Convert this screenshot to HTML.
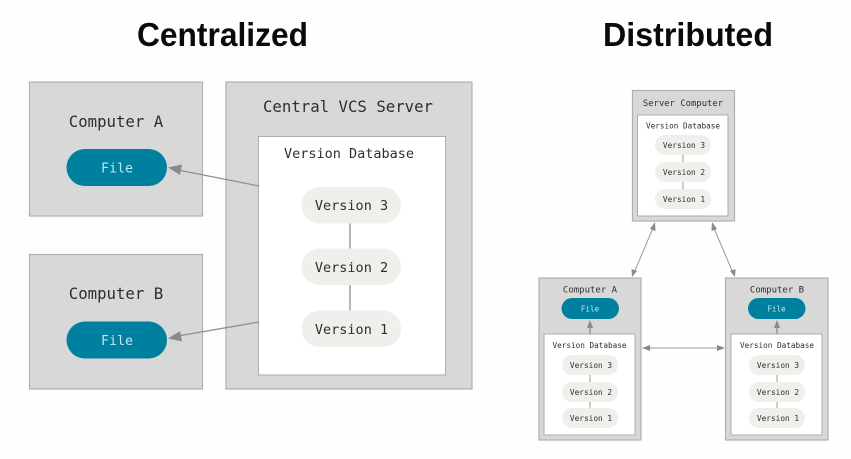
<!DOCTYPE html>
<html>
<head>
<meta charset="utf-8">
<style>
html,body{margin:0;padding:0;background:#fefefe;width:851px;height:459px;overflow:hidden}
svg{display:block}
.box{fill:#d8d8d8;stroke:#b0b0b0;stroke-width:1.2}
.white{fill:#fff;stroke:#adadad;stroke-width:1}
.pill{fill:#f0efeb}
.file{fill:#05809f}
.m{font-family:"DejaVu Sans Mono","Liberation Mono",monospace;fill:#2e2e2e;text-anchor:middle}
.f{font-family:"DejaVu Sans Mono","Liberation Mono",monospace;fill:#c4e4ec;text-anchor:middle}
.h{font-family:"Liberation Sans",sans-serif;font-weight:bold;font-size:33.5px;fill:#0a0a0a}
.ln{stroke:#8f8f8f;stroke-width:1.3;fill:none}
.thin{stroke:#9a9a9a;stroke-width:1;fill:none}
.ar{fill:#8a8a8a}
</style>
</head>
<body>
<svg width="851" height="459" viewBox="0 0 851 459" xmlns="http://www.w3.org/2000/svg">
<defs><filter id="b" filterUnits="userSpaceOnUse" x="0" y="0" width="851" height="459"><feGaussianBlur stdDeviation="0.35"/></filter></defs>
<rect x="0" y="0" width="851" height="459" fill="#fefefe"/>
<rect x="18" y="74" width="470" height="325" fill="#fdfdfc"/>

<text class="h" x="137" y="46" textLength="171" lengthAdjust="spacingAndGlyphs">Centralized</text>
<text class="h" x="603" y="46" textLength="170" lengthAdjust="spacingAndGlyphs">Distributed</text>

<g filter="url(#b)">
<!-- Centralized -->
<rect class="box" x="29.5" y="82" width="173" height="134"/>
<rect class="box" x="29.5" y="254.5" width="173" height="134.5"/>
<rect class="box" x="226" y="82" width="246" height="307"/>
<rect class="white" x="258.5" y="136.5" width="187" height="238.5"/>

<text class="m" x="116" y="127" font-size="15.7">Computer A</text>
<text class="m" x="116" y="299" font-size="15.7">Computer B</text>
<text class="m" x="348" y="112" font-size="15.7">Central VCS Server</text>
<text class="m" x="349" y="158" font-size="13.5">Version Database</text>

<rect class="file" x="66.5" y="149" width="100.5" height="37" rx="18.5"/>
<rect class="file" x="66.5" y="321.5" width="100.5" height="37" rx="18.5"/>
<text class="f" x="117" y="172.500" font-size="13.3">File</text>
<text class="f" x="117" y="345" font-size="13.3">File</text>

<path class="ln" d="M350 223V249M350 285V311"/>
<rect class="pill" x="301.5" y="187" width="99.5" height="36.5" rx="18"/>
<rect class="pill" x="301.5" y="248.5" width="99.5" height="36.5" rx="18"/>
<rect class="pill" x="301.5" y="310.5" width="99.5" height="36.5" rx="18"/>
<text class="m" x="351.5" y="210" font-size="13.5">Version 3</text>
<text class="m" x="351.5" y="272" font-size="13.5">Version 2</text>
<text class="m" x="351.5" y="334" font-size="13.5">Version 1</text>

<path class="ln" d="M259 186L178 170"/>
<polygon class="ar" points="168,167.500 182,164.500 180,175"/>
<path class="ln" d="M259 322L178 336"/>
<polygon class="ar" points="168,338.500 180,331 182,341.500"/>

<!-- Distributed: server -->
<rect class="box" x="632.500" y="90.500" width="102" height="130.500"/>
<rect class="white" x="637.500" y="115" width="90.500" height="101"/>
<text class="m" x="683" y="106" font-size="8.900">Server Computer</text>
<text class="m" x="683" y="128.500" font-size="7.700">Version Database</text>
<path class="thin" d="M683 155V162M683 182V189"/>
<rect class="pill" x="655" y="135" width="56" height="20" rx="10"/>
<rect class="pill" x="655" y="162" width="56" height="20" rx="10"/>
<rect class="pill" x="655" y="189" width="56" height="20" rx="10"/>
<text class="m" x="684" y="148" font-size="7.800">Version 3</text>
<text class="m" x="684" y="175" font-size="7.800">Version 2</text>
<text class="m" x="684" y="202" font-size="7.800">Version 1</text>

<!-- Distributed: A -->
<rect class="box" x="539" y="278" width="102" height="162"/>
<rect class="white" x="544" y="334" width="91" height="101"/>
<text class="m" x="590" y="292.500" font-size="9">Computer A</text>
<rect class="file" x="561.500" y="298" width="57.500" height="21" rx="10.500"/>
<text class="f" x="590" y="311.500" font-size="7.600">File</text>
<path class="ln" d="M590 334V326"/>
<polygon class="ar" points="590,320 593,328 587,328"/>
<text class="m" x="589.500" y="348" font-size="7.700">Version Database</text>
<path class="thin" d="M590 375V382M590 402V408"/>
<rect class="pill" x="562" y="355" width="56" height="20" rx="10"/>
<rect class="pill" x="562" y="382" width="56" height="20" rx="10"/>
<rect class="pill" x="562" y="408" width="56" height="20" rx="10"/>
<text class="m" x="591" y="368" font-size="7.800">Version 3</text>
<text class="m" x="591" y="395" font-size="7.800">Version 2</text>
<text class="m" x="591" y="421" font-size="7.800">Version 1</text>

<!-- Distributed: B -->
<rect class="box" x="725.500" y="278" width="102.500" height="162"/>
<rect class="white" x="731" y="334" width="91" height="101"/>
<text class="m" x="777" y="292.500" font-size="9">Computer B</text>
<rect class="file" x="748" y="298" width="57.500" height="21" rx="10.500"/>
<text class="f" x="776.500" y="311.500" font-size="7.600">File</text>
<path class="ln" d="M777 334V326"/>
<polygon class="ar" points="777,320 780,328 774,328"/>
<text class="m" x="777" y="348" font-size="7.700">Version Database</text>
<path class="thin" d="M777 375V382M777 402V408"/>
<rect class="pill" x="749" y="355" width="56" height="20" rx="10"/>
<rect class="pill" x="749" y="382" width="56" height="20" rx="10"/>
<rect class="pill" x="749" y="408" width="56" height="20" rx="10"/>
<text class="m" x="778" y="368" font-size="7.800">Version 3</text>
<text class="m" x="778" y="395" font-size="7.800">Version 2</text>
<text class="m" x="778" y="421" font-size="7.800">Version 1</text>

<!-- Distributed connectors -->
<path class="thin" d="M653 228L634 273"/>
<polygon class="ar" points="655,222 655.500,231 650,229"/>
<polygon class="ar" points="632,277 631.500,269 637,271"/>
<path class="thin" d="M714 228L733 273"/>
<polygon class="ar" points="712,222 717,229 711.500,231"/>
<polygon class="ar" points="735,277 730,271 735.500,269"/>
<path class="thin" d="M648 348H720"/>
<polygon class="ar" points="642,348 650,345 650,351"/>
<polygon class="ar" points="725,348 717,345 717,351"/>
</g>
</svg>
</body>
</html>
